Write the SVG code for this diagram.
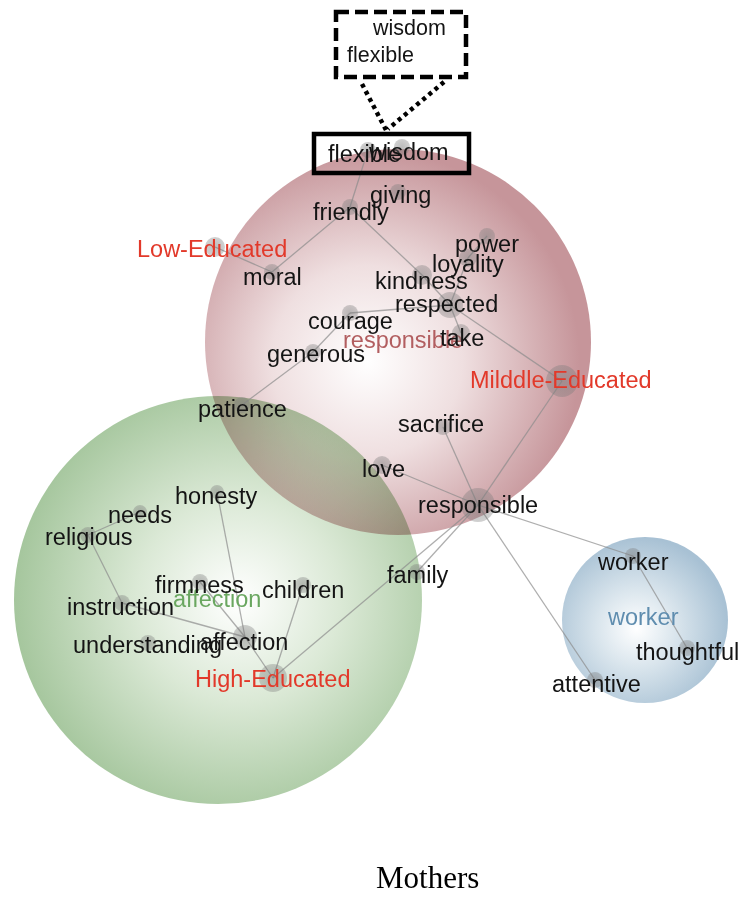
<svg xmlns="http://www.w3.org/2000/svg" width="742" height="898" viewBox="0 0 742 898">
<defs>
<radialGradient id="gRed" cx="0.42" cy="0.55" r="0.55">
<stop offset="0" stop-color="#ffffff"/>
<stop offset="0.45" stop-color="#efdfe0"/>
<stop offset="1" stop-color="#c6959a"/>
</radialGradient>
<radialGradient id="gGreen" cx="0.55" cy="0.5" r="0.55">
<stop offset="0" stop-color="#ffffff"/>
<stop offset="0.45" stop-color="#dbe9d6"/>
<stop offset="1" stop-color="#a5c69d"/>
</radialGradient>
<radialGradient id="gBlue" cx="0.45" cy="0.55" r="0.55">
<stop offset="0" stop-color="#ffffff"/>
<stop offset="0.45" stop-color="#d8e4ec"/>
<stop offset="1" stop-color="#a8c1d4"/>
</radialGradient>
<radialGradient id="gDot" cx="0.5" cy="0.5" r="0.5">
<stop offset="0" stop-color="#7a7a7a" stop-opacity="0.5"/>
<stop offset="1" stop-color="#7a7a7a" stop-opacity="0.35"/>
</radialGradient>
</defs>
<style>
text{font-family:"Liberation Sans",Arial,sans-serif;font-size:23.5px;fill:#141414}
.dot{fill:url(#gDot)}
.edge{stroke:#8c8c8c;stroke-opacity:0.7;stroke-width:1.3;fill:none}
.grp{fill:#e2392a}
.cl{mix-blend-mode:multiply}
.note{font-size:21.5px}
</style>
<rect width="742" height="898" fill="#ffffff"/>
<g id="clusters">
<circle class="cl" cx="398" cy="342" r="193" fill="url(#gRed)"/>
<circle class="cl" cx="218" cy="600" r="204" fill="url(#gGreen)"/>
<circle class="cl" cx="645" cy="620" r="83" fill="url(#gBlue)"/>
</g>
<g id="connectors">
<line class="edge" x1="368" y1="150" x2="350" y2="207"/>
<line class="edge" x1="350" y1="207" x2="272" y2="272"/>
<line class="edge" x1="215" y1="247" x2="272" y2="272"/>
<line class="edge" x1="350" y1="207" x2="422" y2="275"/>
<line class="edge" x1="422" y1="275" x2="450" y2="305"/>
<line class="edge" x1="450" y1="305" x2="562" y2="381"/>
<line class="edge" x1="350" y1="313" x2="450" y2="305"/>
<line class="edge" x1="350" y1="313" x2="313" y2="352"/>
<line class="edge" x1="313" y1="352" x2="242" y2="405"/>
<line class="edge" x1="450" y1="305" x2="468" y2="258"/>
<line class="edge" x1="468" y1="258" x2="487" y2="236"/>
<line class="edge" x1="450" y1="305" x2="461" y2="333"/>
<line class="edge" x1="562" y1="381" x2="478" y2="505"/>
<line class="edge" x1="443" y1="427" x2="478" y2="505"/>
<line class="edge" x1="382" y1="465" x2="478" y2="505"/>
<line class="edge" x1="478" y1="505" x2="417" y2="572"/>
<line class="edge" x1="478" y1="505" x2="273" y2="678"/>
<line class="edge" x1="478" y1="505" x2="633" y2="556"/>
<line class="edge" x1="478" y1="505" x2="595" y2="680"/>
<line class="edge" x1="633" y1="556" x2="687" y2="648"/>
<line class="edge" x1="273" y1="678" x2="245" y2="637"/>
<line class="edge" x1="273" y1="678" x2="303" y2="585"/>
<line class="edge" x1="245" y1="637" x2="217" y2="492"/>
<line class="edge" x1="245" y1="637" x2="200" y2="582"/>
<line class="edge" x1="245" y1="637" x2="122" y2="603"/>
<line class="edge" x1="122" y1="603" x2="88" y2="535"/>
<line class="edge" x1="88" y1="535" x2="140" y2="512"/>
</g>
<g id="cluster-labels">
<text x="343" y="348" style="fill:#b25e60">responsible</text>
<text x="173" y="607" style="fill:#6aa760">affection</text>
<text x="608" y="625" style="fill:#5f8daf">worker</text>
</g>
<g id="n-flexible"><circle class="dot" cx="368" cy="150" r="8"/><text x="328" y="162">flexible</text></g>
<g id="n-wisdom"><circle class="dot" cx="402" cy="147" r="8"/><text x="369" y="160">wisdom</text></g>
<g id="n-giving"><circle class="dot" cx="398" cy="192" r="8"/><text x="370" y="203">giving</text></g>
<g id="n-friendly"><circle class="dot" cx="350" cy="207" r="8"/><text x="313" y="220">friendly</text></g>
<g id="n-low"><circle class="dot" cx="215" cy="247" r="10"/><text class="grp" x="137" y="257">Low-Educated</text></g>
<g id="n-moral"><circle class="dot" cx="272" cy="272" r="8"/><text x="243" y="285">moral</text></g>
<g id="n-power"><circle class="dot" cx="487" cy="236" r="8"/><text x="455" y="252">power</text></g>
<g id="n-loyality"><circle class="dot" cx="468" cy="258" r="9"/><text x="432" y="272">loyality</text></g>
<g id="n-kindness"><circle class="dot" cx="422" cy="275" r="10"/><text x="375" y="289">kindness</text></g>
<g id="n-respected"><circle class="dot" cx="450" cy="305" r="13"/><text x="395" y="312">respected</text></g>
<g id="n-courage"><circle class="dot" cx="350" cy="313" r="8"/><text x="308" y="329">courage</text></g>
<g id="n-take"><circle class="dot" cx="461" cy="333" r="9"/><text x="440" y="346">take</text></g>
<g id="n-generous"><circle class="dot" cx="313" cy="352" r="8"/><text x="267" y="362">generous</text></g>
<g id="n-middle"><circle class="dot" cx="562" cy="381" r="16"/><text class="grp" x="470" y="388">Milddle-Educated</text></g>
<g id="n-patience"><circle class="dot" cx="242" cy="405" r="8"/><text x="198" y="417">patience</text></g>
<g id="n-sacrifice"><circle class="dot" cx="443" cy="427" r="8"/><text x="398" y="432">sacrifice</text></g>
<g id="n-love"><circle class="dot" cx="382" cy="465" r="9"/><text x="362" y="477">love</text></g>
<g id="n-responsible"><circle class="dot" cx="478" cy="505" r="17"/><text x="418" y="513">responsible</text></g>
<g id="n-honesty"><circle class="dot" cx="217" cy="492" r="7"/><text x="175" y="504">honesty</text></g>
<g id="n-needs"><circle class="dot" cx="140" cy="512" r="7"/><text x="108" y="523">needs</text></g>
<g id="n-religious"><circle class="dot" cx="88" cy="535" r="8"/><text x="45" y="545">religious</text></g>
<g id="n-firmness"><circle class="dot" cx="200" cy="582" r="8"/><text x="155" y="593">firmness</text></g>
<g id="n-children"><circle class="dot" cx="303" cy="585" r="8"/><text x="262" y="598">children</text></g>
<g id="n-family"><circle class="dot" cx="417" cy="572" r="8"/><text x="387" y="583">family</text></g>
<g id="n-instruction"><circle class="dot" cx="122" cy="603" r="8"/><text x="67" y="615">instruction</text></g>
<g id="n-understanding"><circle class="dot" cx="148" cy="643" r="8"/><text x="73" y="653">understanding</text></g>
<g id="n-affection"><circle class="dot" cx="245" cy="637" r="12"/><text x="200" y="650">affection</text></g>
<g id="n-high"><circle class="dot" cx="273" cy="678" r="14"/><text class="grp" x="195" y="687">High-Educated</text></g>
<g id="n-worker"><circle class="dot" cx="633" cy="556" r="8"/><text x="598" y="570">worker</text></g>
<g id="n-thoughtful"><circle class="dot" cx="687" cy="648" r="8"/><text x="636" y="660">thoughtful</text></g>
<g id="n-attentive"><circle class="dot" cx="595" cy="680" r="8"/><text x="552" y="692">attentive</text></g>
<g id="callout">
<rect x="314" y="134" width="155" height="39" fill="none" stroke="#000" stroke-width="4.5"/>
<path d="M362 84 L386 130 M444 82 L388 129" fill="none" stroke="#000" stroke-width="4.5" stroke-dasharray="4 4"/>
<rect x="336" y="12" width="130" height="65" fill="#fff" stroke="#000" stroke-width="4.5" stroke-dasharray="13 6"/>
<text class="note" x="373" y="35">wisdom</text>
<text class="note" x="347" y="62">flexible</text>
</g>
<text x="376" y="888" style="font-family:'Liberation Serif','Times New Roman',serif;font-size:31px;fill:#000">Mothers</text>
</svg>
